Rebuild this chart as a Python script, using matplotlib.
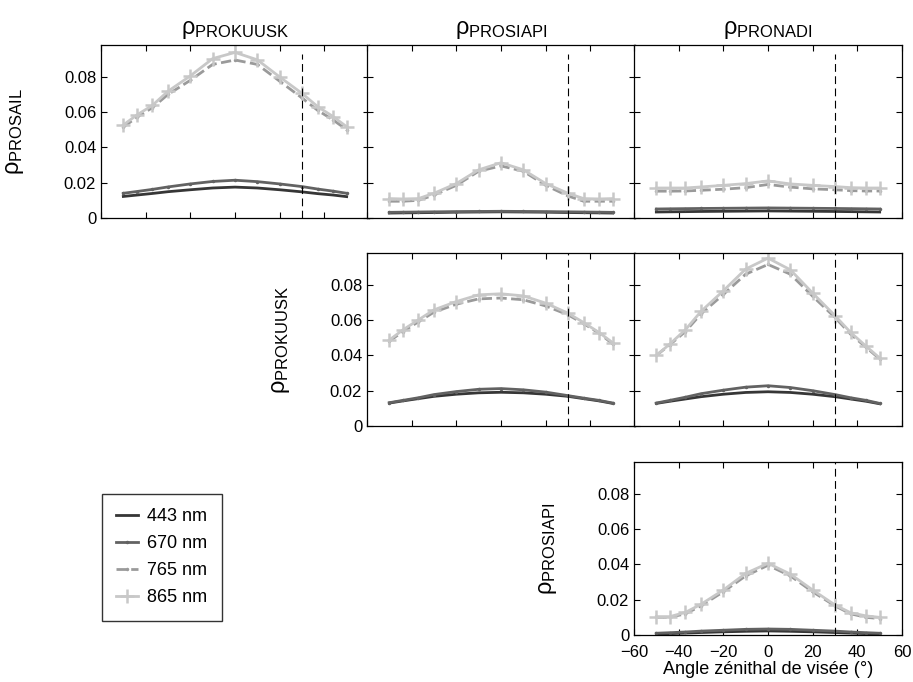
"""
Directional reflectance comparison between canopy models (443, 670, 765, 865 nm).
"""

import matplotlib
matplotlib.use("Agg")
import matplotlib.pyplot as plt

plt.rcParams['font.family'] = ['Liberation Sans', 'DejaVu Sans']
plt.rcParams['mathtext.fontset'] = 'custom'
plt.rcParams['mathtext.rm'] = 'Liberation Sans'
plt.rcParams['mathtext.it'] = 'Liberation Sans:italic'
plt.rcParams['font.size'] = 12

# View zenith angles (deg) and the limit line
vza = [-50, -44, -37, -30, -20, -10, 0, 10, 20, 30, 37, 44, 50]
vza_limit = 30

wavelengths = ['443 nm', '670 nm', '765 nm', '865 nm']

# Row 0 : PROSAIL vs PROKUUSK / PROSIAPI / PRONADI
prosail_prokuusk_443 = [0.0122, 0.0130, 0.0139, 0.0149, 0.0160, 0.0170, 0.0175, 0.0170, 0.0160, 0.0148, 0.0138, 0.0130, 0.0121]
prosail_prokuusk_670 = [0.0140, 0.0150, 0.0162, 0.0176, 0.0193, 0.0207, 0.0214, 0.0206, 0.0193, 0.0178, 0.0164, 0.0152, 0.0140]
prosail_prokuusk_765 = [0.0515, 0.0570, 0.0625, 0.0700, 0.0780, 0.0870, 0.0895, 0.0870, 0.0775, 0.0680, 0.0610, 0.0555, 0.0500]
prosail_prokuusk_865 = [0.0527, 0.0583, 0.0638, 0.0718, 0.0805, 0.0903, 0.0938, 0.0896, 0.0799, 0.0706, 0.0631, 0.0574, 0.0517]

prosail_prosiapi_443 = [0.0028, 0.0029, 0.0030, 0.0031, 0.0033, 0.0034, 0.0035, 0.0034, 0.0033, 0.0031, 0.0030, 0.0029, 0.0028]
prosail_prosiapi_670 = [0.0032, 0.0033, 0.0034, 0.0035, 0.0036, 0.0037, 0.0038, 0.0037, 0.0036, 0.0035, 0.0034, 0.0033, 0.0032]
prosail_prosiapi_765 = [0.0095, 0.0095, 0.0100, 0.0130, 0.0185, 0.0265, 0.0295, 0.0265, 0.0185, 0.0125, 0.0095, 0.0095, 0.0095]
prosail_prosiapi_865 = [0.0110, 0.0108, 0.0110, 0.0140, 0.0195, 0.0273, 0.0313, 0.0273, 0.0195, 0.0140, 0.0110, 0.0108, 0.0110]

prosail_pronadi_443 = [0.0034, 0.0035, 0.0036, 0.0037, 0.0038, 0.0039, 0.0040, 0.0039, 0.0038, 0.0037, 0.0036, 0.0035, 0.0034]
prosail_pronadi_670 = [0.0051, 0.0052, 0.0053, 0.0054, 0.0055, 0.0056, 0.0057, 0.0056, 0.0055, 0.0054, 0.0053, 0.0052, 0.0051]
prosail_pronadi_765 = [0.0152, 0.0152, 0.0153, 0.0157, 0.0163, 0.0172, 0.0190, 0.0175, 0.0165, 0.0160, 0.0155, 0.0153, 0.0153]
prosail_pronadi_865 = [0.0170, 0.0170, 0.0170, 0.0176, 0.0185, 0.0195, 0.0210, 0.0193, 0.0185, 0.0178, 0.0172, 0.0170, 0.0170]

# Row 1 : PROKUUSK vs PROSIAPI / PRONADI
prokuusk_prosiapi_443 = [0.0130, 0.0142, 0.0155, 0.0168, 0.0180, 0.0188, 0.0191, 0.0188, 0.0180, 0.0168, 0.0155, 0.0142, 0.0128]
prokuusk_prosiapi_670 = [0.0132, 0.0145, 0.0160, 0.0178, 0.0195, 0.0208, 0.0212, 0.0205, 0.0192, 0.0172, 0.0158, 0.0145, 0.0130]
prokuusk_prosiapi_765 = [0.0480, 0.0535, 0.0590, 0.0645, 0.0690, 0.0720, 0.0725, 0.0715, 0.0680, 0.0630, 0.0580, 0.0525, 0.0465]
prokuusk_prosiapi_865 = [0.0487, 0.0544, 0.0601, 0.0658, 0.0705, 0.0743, 0.0749, 0.0737, 0.0696, 0.0639, 0.0586, 0.0529, 0.0472]

prokuusk_pronadi_443 = [0.0128, 0.0140, 0.0153, 0.0166, 0.0180, 0.0190, 0.0194, 0.0190, 0.0180, 0.0166, 0.0153, 0.0140, 0.0126]
prokuusk_pronadi_670 = [0.0130, 0.0145, 0.0163, 0.0183, 0.0203, 0.0220, 0.0228, 0.0218, 0.0200, 0.0178, 0.0160, 0.0145, 0.0128]
prokuusk_pronadi_765 = [0.0400, 0.0460, 0.0535, 0.0635, 0.0745, 0.0860, 0.0915, 0.0860, 0.0735, 0.0615, 0.0520, 0.0445, 0.0380]
prokuusk_pronadi_865 = [0.0400, 0.0464, 0.0545, 0.0649, 0.0766, 0.0889, 0.0951, 0.0885, 0.0753, 0.0625, 0.0530, 0.0451, 0.0385]

# Row 2 : PROSIAPI vs PRONADI
prosiapi_pronadi_443 = [0.0006, 0.0008, 0.0011, 0.0014, 0.0018, 0.0021, 0.0023, 0.0021, 0.0018, 0.0014, 0.0011, 0.0008, 0.0006]
prosiapi_pronadi_670 = [0.0010, 0.0013, 0.0017, 0.0022, 0.0027, 0.0032, 0.0034, 0.0032, 0.0027, 0.0022, 0.0017, 0.0013, 0.0010]
prosiapi_pronadi_765 = [0.0100, 0.0100, 0.0120, 0.0165, 0.0245, 0.0335, 0.0395, 0.0335, 0.0245, 0.0165, 0.0120, 0.0100, 0.0093]
prosiapi_pronadi_865 = [0.0104, 0.0104, 0.0128, 0.0174, 0.0255, 0.0349, 0.0406, 0.0345, 0.0255, 0.0170, 0.0126, 0.0108, 0.0100]

column_titles = ['PROKUUSK', 'PROSIAPI', 'PRONADI']
row_labels = ['PROSAIL', 'PROKUUSK', 'PROSIAPI']

# (row, col) -> the four spectral series
panels = {
    (0, 0): [prosail_prokuusk_443, prosail_prokuusk_670, prosail_prokuusk_765, prosail_prokuusk_865],
    (0, 1): [prosail_prosiapi_443, prosail_prosiapi_670, prosail_prosiapi_765, prosail_prosiapi_865],
    (0, 2): [prosail_pronadi_443, prosail_pronadi_670, prosail_pronadi_765, prosail_pronadi_865],
    (1, 1): [prokuusk_prosiapi_443, prokuusk_prosiapi_670, prokuusk_prosiapi_765, prokuusk_prosiapi_865],
    (1, 2): [prokuusk_pronadi_443, prokuusk_pronadi_670, prokuusk_pronadi_765, prokuusk_pronadi_865],
    (2, 2): [prosiapi_pronadi_443, prosiapi_pronadi_670, prosiapi_pronadi_765, prosiapi_pronadi_865],
}

# Line styles for each wavelength
styles = [
    dict(color='#363636', linestyle='-', lw=2.0),
    dict(color='#626262', linestyle='-', lw=2.0, marker='.', markersize=3),
    dict(color='#9a9a9a', linestyle='--', lw=2.0, marker='.', markersize=3),
    dict(color='#c8c8c8', linestyle='-', lw=2.0, marker='+', markersize=10, mew=1.8),
]


def main():
    fig = plt.figure(figsize=(9.13, 6.82), dpi=100)

    W, H = 913.0, 682.0
    col_left = [101, 367, 634]
    col_width = 268
    row_top = [45, 253, 462]
    row_height = 173

    handles = []
    for (r, c), series in panels.items():
        rect = [col_left[c] / W, 1 - (row_top[r] + row_height) / H,
                col_width / W, row_height / H]
        ax = fig.add_axes(rect)

        for values, label, st in zip(series, wavelengths, styles):
            h, = ax.plot(vza, values, label=label, **st)
            if (r, c) == (0, 0):
                handles.append(h)

        # limit line (shorter in the first row)
        ax.axvline(vza_limit, ymin=0, ymax=0.95 if r == 0 else 1.0,
                   color='black', lw=0.8, linestyle=(0, (7, 4)))

        ax.set_xlim(-60, 60)
        ax.set_ylim(0, 0.098)
        ax.set_xticks([-60, -40, -20, 0, 20, 40, 60])
        ax.set_yticks([0, 0.02, 0.04, 0.06, 0.08])
        ax.tick_params(direction='in', top=True, right=True, length=4,
                       width=0.8, labelsize=12)
        ax.tick_params(axis='x', pad=7)
        for sp in ax.spines.values():
            sp.set_linewidth(0.9)

        if r == 2:
            ax.set_xticklabels(['\u221260', '\u221240', '\u221220', '0', '20', '40', '60'])
            ax.set_xlabel('Angle zénithal de visée (°)', fontsize=13, labelpad=1)
        else:
            ax.set_xticklabels([])

        if r == c:
            ax.set_yticklabels(['0', '0.02', '0.04', '0.06', '0.08'])
            ax.set_ylabel(r'$\mathrm{\rho}_{\mathrm{' + row_labels[r] + '}}$', fontsize=17)
            ax.yaxis.set_label_coords(-0.28, 0.5)
        else:
            ax.set_yticklabels([])

        if r == 0:
            ax.set_title(r'$\mathrm{\rho}_{\mathrm{' + column_titles[c] + '}}$',
                         fontsize=17, pad=8)

    leg = fig.legend(handles=handles, loc='upper left',
                     bbox_to_anchor=(102 / W, 1 - 494 / H),
                     fontsize=13, frameon=True, fancybox=False,
                     handlelength=1.2, handletextpad=0.5, labelspacing=0.55,
                     borderpad=0.8, borderaxespad=0)
    leg.get_frame().set_edgecolor('black')
    leg.get_frame().set_linewidth(1.0)

    fig.savefig('out.png', dpi=100)


if __name__ == "__main__":
    main()
